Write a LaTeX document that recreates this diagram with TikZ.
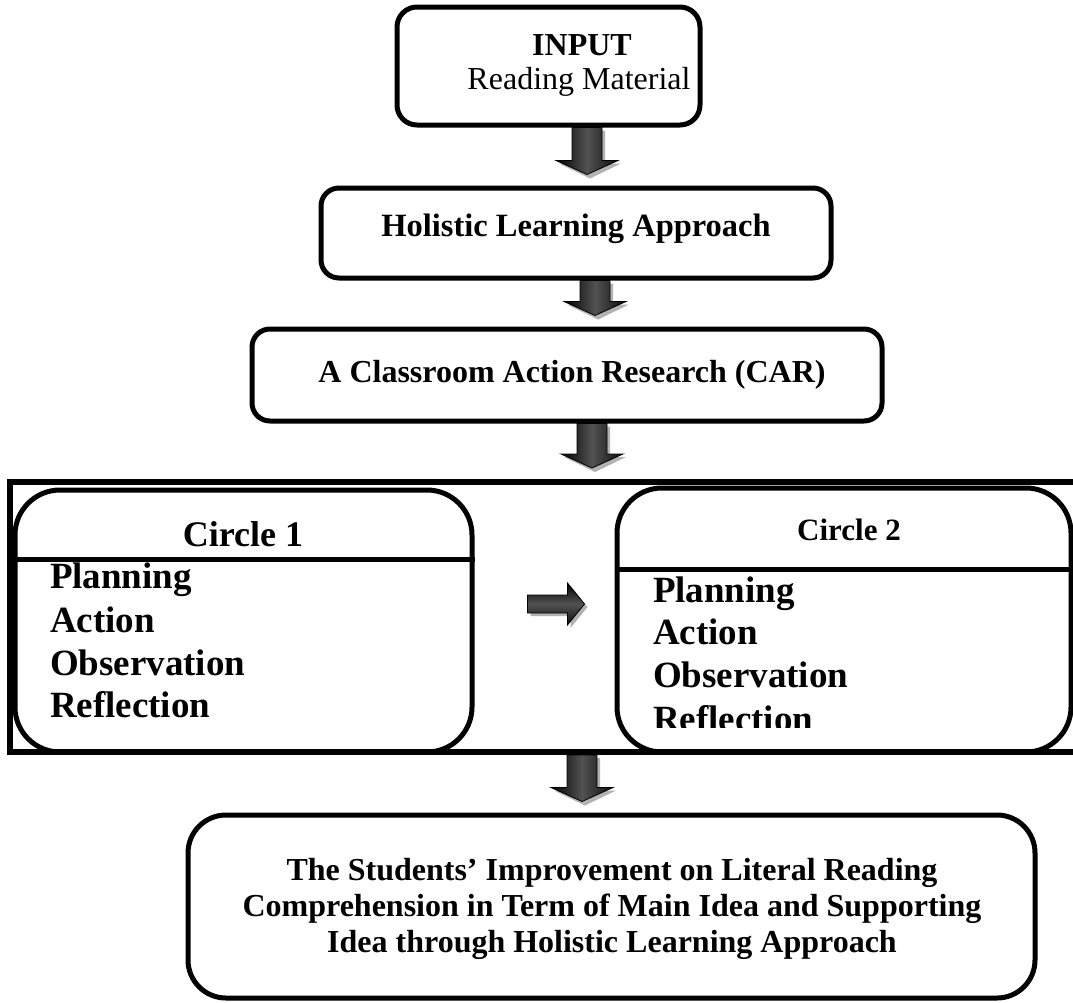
\documentclass[tikz,border=0pt]{standalone}
\usepackage{fontspec}
\setmainfont{Liberation Serif}
\usetikzlibrary{calc}
\tikzset{
  box/.style={draw=black, line width=5pt, rounded corners=#1, inner sep=0pt},
  box/.default=20pt,
  txt/.style={inner sep=0pt, outer sep=0pt},
  arrowbody/.style={draw=black, line width=0.8pt, left color=black, right color=black!95, middle color=black!68},
  arrowbodyh/.style={draw=black, line width=0.8pt, top color=black, bottom color=black!95, middle color=black!68},
  arrowshadow/.style={fill=gray!60},
}
\newcommand\blkdown[3]{%
  \path[arrowshadow] let \p1=(#1.south), \p2=(#2.north) in
    (#3pt-12pt,\y1-3pt) -- (#3pt+18pt,\y1-3pt) -- (#3pt+18pt,\y2+22pt) -- (#3pt+34pt,\y2+22pt) -- (#3pt+3pt,\y2+7pt) -- (#3pt-28pt,\y2+22pt) -- (#3pt-12pt,\y2+22pt) -- cycle;
  \path[arrowbody] let \p1=(#1.south), \p2=(#2.north) in
    (#3pt-15pt,\y1) -- (#3pt+15pt,\y1) -- (#3pt+15pt,\y2+25pt) -- (#3pt+31pt,\y2+25pt) -- (#3pt,\y2+11pt) -- (#3pt-31pt,\y2+25pt) -- (#3pt-15pt,\y2+25pt) -- cycle;
}
\newcommand\blkright[3]{%
  \path[arrowshadow] let \p1=(#1.east), \p2=(#2.west) in
    (\x1+56pt,-#3pt+6pt) -- (\x2-44pt,-#3pt+6pt) -- (\x2-44pt,-#3pt+18pt) -- (\x2-27pt,-#3pt-3pt) -- (\x2-44pt,-#3pt-24pt) -- (\x2-44pt,-#3pt-12pt) -- (\x1+56pt,-#3pt-12pt) -- cycle;
  \path[arrowbodyh] let \p1=(#1.east), \p2=(#2.west) in
    (\x1+53pt,-#3pt+9pt) -- (\x2-47pt,-#3pt+9pt) -- (\x2-47pt,-#3pt+21pt) -- (\x2-30pt,-#3pt) -- (\x2-47pt,-#3pt-21pt) -- (\x2-47pt,-#3pt-9pt) -- (\x1+53pt,-#3pt-9pt) -- cycle;
}
\begin{document}
\begin{tikzpicture}[x=1pt,y=-1pt]
\clip (0,0) rectangle (1073,1002);
\fill[white] (0,0) rectangle (1073,1002);

% boxes
\node[box=20pt, minimum width=303pt, minimum height=118pt] (input) at (548.5,66) {};
\node[box=18pt, minimum width=510pt, minimum height=90pt] (holistic) at (576,233) {};
\node[box=18pt, minimum width=630pt, minimum height=92pt] (car) at (567,375) {};
\node[draw=black, line width=6pt, inner sep=0pt, minimum width=1070pt, minimum height=270pt] (outer) at (545,617) {};
\node[box=45pt, minimum width=457pt, minimum height=262pt] (c1) at (243.5,621) {};
\node[box=45pt, minimum width=454pt, minimum height=264pt] (c2) at (844,620) {};
\node[box=38pt, minimum width=847pt, minimum height=183pt] (final) at (611.5,906.5) {};

% dividers
\coordinate (d1) at (0,559);
\coordinate (d2) at (0,569);
\draw[line width=5pt] (c1.west |- d1) -- (c1.east |- d1);
\draw[line width=5pt] (c2.west |- d2) -- (c2.east |- d2);

% texts
\node[txt, anchor=base, font=\bfseries\fontsize{32pt}{38pt}\selectfont] (tinput) at (582,55) {INPUT};
\node[txt, anchor=base, font=\fontsize{32pt}{38pt}\selectfont] (tread) at (579,89) {Reading Material};
\node[txt, anchor=base, font=\bfseries\fontsize{32.5pt}{38pt}\selectfont] (thol) at (576,236) {Holistic Learning Approach};
\node[txt, anchor=base, font=\bfseries\fontsize{32pt}{38pt}\selectfont] (tcar) at (572,382) {A Classroom Action Research (CAR)};

\node[txt, anchor=base, font=\bfseries\fontsize{36pt}{40pt}\selectfont] (tc1) at (243,546) {Circle 1};
\node[txt, anchor=base west, font=\bfseries\fontsize{37pt}{40pt}\selectfont] (c1p) at (50,588) {Planning};
\node[txt, anchor=base west, font=\bfseries\fontsize{37pt}{40pt}\selectfont] (c1a) at (50,632) {Action};
\node[txt, anchor=base west, font=\bfseries\fontsize{37pt}{40pt}\selectfont] (c1o) at (50,675) {Observation};
\node[txt, anchor=base west, font=\bfseries\fontsize{37pt}{40pt}\selectfont] (c1r) at (50,717) {Reflection};

\node[txt, anchor=base, font=\bfseries\fontsize{31pt}{36pt}\selectfont] (tc2) at (849,540) {Circle 2};
\node[txt, anchor=base west, font=\bfseries\fontsize{37pt}{40pt}\selectfont] (c2p) at (653,602) {Planning};
\node[txt, anchor=base west, font=\bfseries\fontsize{37pt}{40pt}\selectfont] (c2a) at (653,644) {Action};
\node[txt, anchor=base west, font=\bfseries\fontsize{37pt}{40pt}\selectfont] (c2o) at (653,687) {Observation};
\begin{scope}
  \clip (620,690) rectangle (1060,727);
  \node[txt, anchor=base west, font=\bfseries\fontsize{37pt}{40pt}\selectfont] (c2r) at (653,731) {Reflection};
\end{scope}

\node[txt, anchor=base, align=center, font=\bfseries\fontsize{32pt}{36pt}\selectfont] (tfinal) at (612,952)
  {The Students’ Improvement on Literal Reading\\Comprehension in Term of Main Idea and Supporting\\Idea through Holistic Learning Approach};

% block arrows
\blkdown{input}{holistic}{587}
\blkdown{holistic}{car}{595}
\blkdown{car}{outer}{592}
\blkdown{outer}{final}{582}
\blkright{c1}{c2}{604}
\end{tikzpicture}
\end{document}
